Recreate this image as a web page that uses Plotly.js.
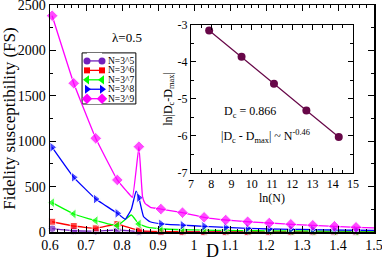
<!DOCTYPE html>
<html><head><meta charset="utf-8">
<script src="https://cdn.plot.ly/plotly-3.0.1.min.js"></script>
<style>html,body{margin:0;padding:0;background:#fff}</style>
</head><body><div id="chart" style="width:382px;height:261px"></div>
<script>
// ---- data ----
const seriesNames = ["N=3^5", "N=3^6", "N=3^7", "N=3^8", "N=3^9"];
// D positions where symbols are drawn
const markD = [0.606,0.666,0.727,0.787,0.847,0.908,0.968,1.028,1.088,1.149,1.209,1.269,1.330,1.390,1.450];

const d5  = [0.606,0.666,0.727,0.787,0.847,0.908,0.968,1.028,1.088,1.149,1.209,1.269,1.330,1.390,1.450,1.5];
const fs5 = [38,14,10,22,4,3,2,1,1,1,1,1,1,1,1,1];

const d6  = [0.606,0.666,0.727,0.787,0.810,0.847,0.908,0.968,1.028,1.088,1.149,1.209,1.269,1.330,1.390,1.450,1.5];
const fs6 = [113,66,41,88,60,16,5,3,2,2,2,2,2,2,2,2,2];

const d7  = [0.606,0.666,0.727,0.787,0.826,0.847,0.870,0.908,0.968,1.028,1.088,1.149,1.209,1.269,1.330,1.390,1.450,1.5];
const fs7 = [323,198,125,70,187,88,55,36,25,20,17,15,13,12,11,10,9,9];

const d8  = [0.606,0.666,0.727,0.787,0.809,0.826,0.839,0.847,0.860,0.878,0.908,0.968,1.028,1.088,1.149,1.209,1.269,1.330,1.390,1.450,1.5];
const fs8 = [933,602,363,206,140,250,450,378,168,113,90,75,63,52,41,33,30,26,22,19,17];

const d9  = [0.606,0.666,0.727,0.787,0.814,0.829,0.847,0.857,0.864,0.879,0.908,0.968,1.028,1.088,1.149,1.209,1.269,1.330,1.390,1.450,1.5];
const fs9 = [2382,1638,1032,573,444,382,940,390,316,272,253,213,162,132,113,99,85,74,63,52,45];

// inset
const lnN    = [7.9, 9.5, 11.1, 12.7, 14.3];
const lnDiff = [-3.15, -3.86, -4.59, -5.31, -6.03];

// ---- styling ----
const FONT = "Liberation Serif, Times New Roman, serif";
const colors  = ["#7221bc", "#ff0000", "#00ff00", "#0000ff", "#ff00ff"];
const symbols = ["circle", "square", "triangle-left", "triangle-right", "diamond"];
const msizes  = [8, 7, 9, 9, 9];
const allD  = [d5, d6, d7, d8, d9];
const allFS = [fs5, fs6, fs7, fs8, fs9];

const traces = [];
allD.forEach((dArr, i) => {
  traces.push({
    x: dArr, y: allFS[i], type: "scatter", mode: "lines+markers",
    xaxis: "x", yaxis: "y", cliponaxis: false, hoverinfo: "skip",
    line: {color: colors[i], width: 1.3, shape: "spline", smoothing: 0.3},
    marker: {symbol: symbols[i], color: colors[i],
             size: dArr.map(d => markD.some(m => Math.abs(m - d) < 1e-6) ? msizes[i] : 0)}
  });
});

// inset trace
traces.push({
  x: lnN, y: lnDiff, type: "scatter", mode: "lines+markers",
  xaxis: "x2", yaxis: "y2", cliponaxis: false, hoverinfo: "skip",
  line: {color: "#670748", width: 1.2},
  marker: {symbol: "circle", size: 8, color: "#670748"}
});

// legend samples (built from series list)
seriesNames.forEach((name, i) => {
  traces.push({
    x: [0, 1], y: [i, i], type: "scatter", mode: "lines+markers",
    xaxis: "x3", yaxis: "y3", cliponaxis: false, hoverinfo: "skip",
    line: {color: colors[i], width: 1.3},
    marker: {symbol: symbols[i], color: colors[i], size: msizes[i] - 1}
  });
});

// legend rows: pixel row 61 + 9.42*i within a 227px-high plot area starting at y=5
const legendAnn = seriesNames.map((name, i) => ({
  xref: "paper", yref: "paper", x: 0.176, y: (232 - (61 + 9.42 * i)) / 227, text: name, showarrow: false,
  xanchor: "left", yanchor: "middle", borderpad: 0, font: {family: FONT, size: 9.5, color: "#000"}
}));

const axBase = {
  showline: true, linecolor: "#000", mirror: "allticks", ticks: "inside",
  tickcolor: "#000", showgrid: false, zeroline: false, ticklabeloverflow: "allow"
};

const layout = {
  width: 382, height: 261,
  margin: {l: 50, r: 8, t: 5, b: 29},
  paper_bgcolor: "#fff", plot_bgcolor: "#fff",
  showlegend: false,
  font: {family: FONT, color: "#000"},
  xaxis: Object.assign({}, axBase, {
    domain: [0, 1], anchor: "y", range: [0.6, 1.50001], tick0: 0.6, dtick: 0.1,
    linewidth: 1.5, ticklen: 6, tickwidth: 1,
    minor: {dtick: 0.02, tick0: 0.6, ticklen: 3, ticks: "inside", tickcolor: "#000"},
    tickfont: {family: FONT, size: 14}
  }),
  yaxis: Object.assign({}, axBase, {
    domain: [0, 1], anchor: "x", range: [0, 2500.01], dtick: 500,
    linewidth: 1.5, ticklen: 6, tickwidth: 1,
    minor: {dtick: 250, ticklen: 3, ticks: "inside", tickcolor: "#000"},
    tickfont: {family: FONT, size: 14},
    title: {text: "Fidelity susceptibility (FS)", font: {family: FONT, size: 17}, standoff: 2}
  }),
  xaxis2: Object.assign({}, axBase, {
    domain: [0.435, 0.935], anchor: "y2", range: [7, 15], dtick: 1,
    linewidth: 1, ticklen: 5, tickwidth: 1,
    minor: {dtick: 0.5, ticklen: 3, ticks: "inside", tickcolor: "#000"},
    tickfont: {family: FONT, size: 12},
    title: {text: "ln(N)", font: {family: FONT, size: 12}, standoff: 1}
  }),
  yaxis2: Object.assign({}, axBase, {
    domain: [0.26, 0.912], anchor: "x2", range: [-7, -3],
    tickmode: "array", tickvals: [-7, -6, -5, -4, -3], ticktext: ["-7", "-6", "-5", "-4", "-3"],
    linewidth: 1, ticklen: 5, tickwidth: 1,
    minor: {tickmode: "array", tickvals: [-6.5, -5.5, -4.5, -3.5], ticklen: 3, ticks: "inside", tickcolor: "#000"},
    tickfont: {family: FONT, size: 12},
    title: {text: "ln|D<sub>c</sub>-D<sub>max</sub>|", font: {family: FONT, size: 12}, standoff: 2}
  }),
  xaxis3: {domain: [0.1142, 0.1605], anchor: "y3", range: [0, 1], visible: false, fixedrange: true},
  yaxis3: {domain: [0.564, 0.789], anchor: "x3", range: [4.56, -0.85], visible: false, fixedrange: true},
  shapes: [{
    type: "rect", xref: "paper", yref: "paper",
    x0: 0.099, x1: 0.265, y0: 0.564, y1: 0.789,
    line: {color: "#000", width: 1}, fillcolor: "#fff", layer: "below"
  }],
  annotations: [
    {xref: "paper", yref: "paper", x: 0.5, y: -0.082, text: "D", showarrow: false,
     xanchor: "center", yanchor: "middle", borderpad: 0, font: {family: FONT, size: 18}},
    {xref: "paper", yref: "paper", x: 0.238, y: 0.855, text: "λ=0.5", showarrow: false,
     xanchor: "center", yanchor: "middle", font: {family: FONT, size: 13}},
    {xref: "paper", yref: "paper", x: 0.531, y: 0.529, text: "D<sub>c</sub> = 0.866", showarrow: false,
     xanchor: "left", yanchor: "middle", font: {family: FONT, size: 12}},
    {xref: "paper", yref: "paper", x: 0.522, y: 0.419,
     text: "|D<sub>c</sub> - D<sub>max</sub>| ~ N<sup>-0.46</sup>", showarrow: false,
     xanchor: "left", yanchor: "middle", font: {family: FONT, size: 12}}
  ].concat(legendAnn)
};

Plotly.newPlot("chart", traces, layout, {staticPlot: true, displayModeBar: false});
</script></body></html>
